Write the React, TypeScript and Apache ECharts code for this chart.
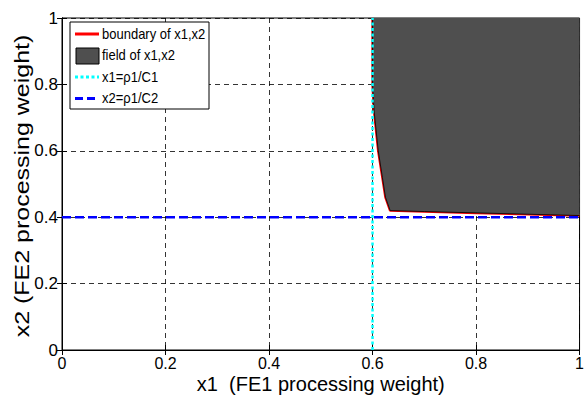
import React, { useEffect, useRef } from "react";
import * as echarts from "echarts";

const boundaryX1 = [0.6, 0.6, 0.603, 0.611, 0.619, 0.625, 0.634, 0.7, 0.8, 0.9, 1.0];
const boundaryX2 = [1.0, 0.8, 0.72, 0.6, 0.52, 0.46, 0.42, 0.417, 0.413, 0.409, 0.405];
const rho1C1 = 0.6;
const rho1C2 = 0.4;
const axisMin = 0;
const axisMax = 1;
const seriesNames = ["boundary of x1,x2", "field of x1,x2", "x1=\u03c11/C1", "x2=\u03c11/C2"];
const xTitle = "x1  (FE1 processing weight)";
const yTitle = "x2 (FE2 processing weight)";

const FONT = "'Liberation Sans', Arial, sans-serif";

export default function App() {
  const ref = useRef<HTMLDivElement>(null);
  useEffect(() => {
    if (!ref.current) return;
    const chart = echarts.init(ref.current, null, { renderer: "svg" });
    const boundary = boundaryX1.map((x, i) => [x, boundaryX2[i]]);
    const fmt = (v: number) => String(Math.round(v * 10) / 10);
    const grid = { left: 62, right: 3, top: 18, bottom: 51, show: true, borderColor: "#000", borderWidth: 1, containLabel: false };
    const baseAxis = {
      type: "value",
      min: axisMin,
      max: axisMax,
      interval: 0.2,
      axisLine: { show: true, lineStyle: { color: "#000", width: 1 } },
      axisTick: { show: true, inside: true, length: 5, lineStyle: { color: "#000" } },
    };
    const legendX = 70;
    const legendY = 22;
    const rowH = 21.5;
    const items: any[] = [
      { type: "rect", shape: { x: legendX, y: legendY, width: 139, height: 87 }, style: { fill: "#fff", stroke: "#000", lineWidth: 1 } },
      { type: "line", shape: { x1: legendX + 5, y1: legendY + 12, x2: legendX + 29, y2: legendY + 12 }, style: { stroke: "#ff0000", lineWidth: 3 } },
      { type: "rect", shape: { x: legendX + 6, y: legendY + 26, width: 23, height: 16 }, style: { fill: "#4f4f4f", stroke: "#000", lineWidth: 1 } },
      { type: "line", shape: { x1: legendX + 5, y1: legendY + 12 + rowH * 2, x2: legendX + 29, y2: legendY + 12 + rowH * 2 }, style: { stroke: "#00ffff", lineWidth: 3, lineDash: [3, 2.5] } },
      { type: "line", shape: { x1: legendX + 5, y1: legendY + 12 + rowH * 3, x2: legendX + 29, y2: legendY + 12 + rowH * 3 }, style: { stroke: "#0000ff", lineWidth: 3, lineDash: [8, 4] } },
    ];
    seriesNames.forEach((n, i) => {
      items.push({
        type: "text",
        x: legendX + 32,
        y: legendY + 12 + rowH * i,
        scaleY: 1.1,
        style: { text: n, fill: "#000", font: `13px ${FONT}`, verticalAlign: "middle" },
      });
    });
    items.push({
      type: "text",
      x: 22,
      y: 186,
      rotation: Math.PI / 2,
      scaleX: 1.25,
      style: { text: yTitle, fill: "#000", font: `20px ${FONT}`, align: "center", verticalAlign: "middle" },
    });
    chart.setOption({
      animation: false,
      backgroundColor: "#fff",
      textStyle: { fontFamily: FONT },
      grid,
      xAxis: [
        {
          ...baseAxis,
          position: "bottom",
          name: xTitle,
          nameLocation: "middle",
          nameGap: 24,
          nameMoveOverlap: false,
          nameTextStyle: { fontSize: 20, lineHeight: 20, color: "#000", fontFamily: FONT },
          axisLabel: { color: "#000", fontSize: 16, lineHeight: 16, margin: 5, formatter: fmt, fontFamily: FONT },
          splitLine: { show: true, lineStyle: { color: "#000", width: 0.8, type: [5, 4] } },
        },
        {
          ...baseAxis,
          position: "top",
          axisLabel: { show: false },
          splitLine: { show: false },
        },
      ],
      yAxis: [
        {
          ...baseAxis,
          position: "left",
          axisLabel: { color: "#000", fontSize: 17, margin: 4, formatter: fmt, fontFamily: FONT },
          splitLine: { show: true, lineStyle: { color: "#000", width: 0.8, type: [5, 4] } },
        },
        {
          ...baseAxis,
          position: "right",
          axisLabel: { show: false },
          splitLine: { show: false },
        },
      ],
      series: [
        {
          name: seriesNames[0],
          type: "line",
          data: boundary,
          symbol: "none",
          lineStyle: { color: "#ff0000", width: 2.5 },
          z: 3,
        },
        {
          name: seriesNames[1],
          type: "line",
          data: boundary,
          symbol: "none",
          lineStyle: { color: "#000", width: 0.8 },
          areaStyle: { color: "#4f4f4f", opacity: 1, origin: "end" },
          z: 4,
        },
        {
          name: seriesNames[2],
          type: "line",
          data: [[rho1C1, axisMin], [rho1C1, axisMax]],
          symbol: "none",
          lineStyle: { color: "#00ffff", width: 2.5, type: [3, 2.5] },
          z: 5,
        },
        {
          name: seriesNames[3],
          type: "line",
          data: [[axisMin, rho1C2], [axisMax, rho1C2]],
          symbol: "none",
          lineStyle: { color: "#0000ff", width: 2.5, type: [9, 4] },
          z: 6,
        },
      ],
      graphic: { elements: items.map((e) => ({ ...e, z: 100 })) },
    });
    return () => chart.dispose();
  }, []);
  return <div ref={ref} style={{ width: 587, height: 401, position: "absolute", left: 0, top: 0 }} />;
}
